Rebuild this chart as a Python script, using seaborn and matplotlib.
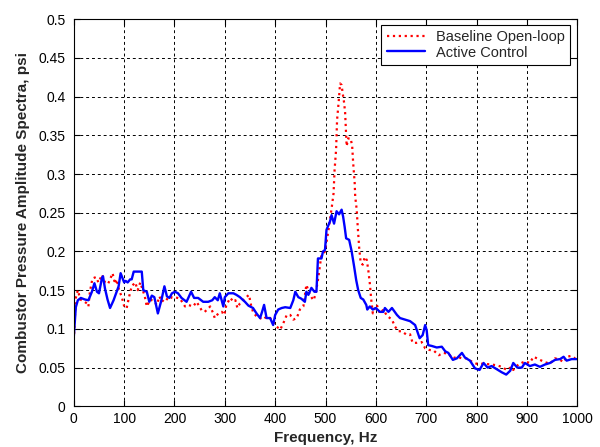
import matplotlib
matplotlib.use("Agg")
import matplotlib.pyplot as plt
import seaborn as sns
import pandas as pd

# Active Control (blue) — frequency (Hz), amplitude (psi)
blue_f = [0, 4, 8, 14, 22, 29, 36, 41, 46, 50, 56, 58, 62, 67, 72, 79, 89, 93, 100, 103,
          107, 112, 115, 119, 128, 135, 138, 145, 150, 155, 160, 167, 174, 180, 185, 190, 195,
          201, 207, 214, 224, 233, 239, 247, 257, 267, 275, 280, 286, 290, 297, 300, 307, 317,
          323, 330, 340, 347, 356, 363, 370, 374, 378, 383, 390, 396, 400, 406, 413, 420, 430,
          436, 440, 446, 452, 459, 462, 466, 472, 478, 482, 485, 492, 495, 499, 502, 509, 512,
          517, 522, 527, 532, 535, 538, 541, 547, 552, 557, 561, 565, 570, 575, 581, 583, 588,
          594, 600, 608, 615, 618, 625, 632, 642, 648, 658, 668, 678, 687, 693, 698, 701, 704,
          711, 721, 731, 738, 744, 753, 761, 771, 777, 787, 797, 806, 814, 822, 830, 840, 850,
          859, 867, 873, 881, 890, 896, 906, 916, 926, 936, 946, 956, 966, 973, 979, 989, 999]
blue_v = [0.090, 0.128, 0.137, 0.140, 0.138, 0.137, 0.148, 0.159, 0.148, 0.146, 0.166, 0.168,
          0.152, 0.138, 0.127, 0.137, 0.155, 0.172, 0.160, 0.162, 0.160, 0.164, 0.164, 0.174,
          0.174, 0.174, 0.150, 0.148, 0.135, 0.143, 0.141, 0.120, 0.137, 0.155, 0.142, 0.140,
          0.146, 0.148, 0.146, 0.140, 0.135, 0.148, 0.140, 0.140, 0.135, 0.135, 0.137, 0.141,
          0.137, 0.146, 0.129, 0.141, 0.146, 0.146, 0.144, 0.141, 0.135, 0.130, 0.127, 0.120,
          0.114, 0.122, 0.131, 0.114, 0.114, 0.105, 0.118, 0.125, 0.127, 0.128, 0.127, 0.137,
          0.148, 0.141, 0.139, 0.135, 0.148, 0.144, 0.153, 0.148, 0.148, 0.191, 0.191, 0.200,
          0.202, 0.228, 0.239, 0.247, 0.236, 0.252, 0.248, 0.254, 0.245, 0.232, 0.217, 0.215,
          0.200, 0.180, 0.163, 0.150, 0.140, 0.138, 0.131, 0.125, 0.129, 0.125, 0.127, 0.122,
          0.122, 0.127, 0.122, 0.127, 0.118, 0.114, 0.112, 0.110, 0.105, 0.088, 0.092, 0.105,
          0.098, 0.079, 0.078, 0.076, 0.077, 0.071, 0.069, 0.060, 0.062, 0.069, 0.063, 0.059,
          0.049, 0.047, 0.056, 0.050, 0.052, 0.048, 0.044, 0.041, 0.046, 0.056, 0.050, 0.050,
          0.056, 0.052, 0.054, 0.051, 0.054, 0.056, 0.060, 0.061, 0.064, 0.059, 0.061, 0.061]

# Baseline Open-loop (red) — frequency (Hz), amplitude (psi)
red_f = [0, 4, 8, 13, 19, 26, 29, 32, 37, 44, 49, 56, 62, 68, 72, 77, 82, 85, 90, 95, 101,
         105, 110, 115, 122, 127, 132, 137, 141, 145, 152, 158, 165, 170, 175, 182, 188, 195,
         201, 211, 221, 227, 237, 244, 254, 260, 271, 277, 280, 287, 294, 299, 303, 311, 317,
         321, 325, 330, 336, 343, 348, 352, 356, 363, 370, 376, 383, 390, 396, 403, 410, 416,
         423, 430, 436, 443, 449, 456, 462, 469, 476, 480, 485, 492, 499, 506, 512, 516, 518,
         521, 523, 526, 529, 532, 534, 537, 539, 541, 542, 545, 550, 553, 555, 558, 559, 562,
         564, 567, 570, 574, 578, 582, 585, 588, 591, 594, 598, 602, 608, 615, 622, 632, 638,
         645, 651, 660, 668, 673, 681, 691, 698, 705, 715, 725, 734, 744, 753, 761, 771, 780,
         790, 800, 814, 830, 840, 850, 860, 870, 873, 883, 896, 906, 913, 920, 926, 936, 946,
         956, 966, 973, 979, 987, 996]
red_v = [0.086, 0.140, 0.150, 0.138, 0.136, 0.133, 0.129, 0.148, 0.165, 0.167, 0.160, 0.170,
         0.160, 0.158, 0.164, 0.172, 0.158, 0.164, 0.150, 0.142, 0.127, 0.127, 0.142, 0.155,
         0.160, 0.150, 0.160, 0.150, 0.142, 0.129, 0.138, 0.136, 0.131, 0.142, 0.135, 0.140,
         0.137, 0.141, 0.141, 0.139, 0.129, 0.131, 0.129, 0.135, 0.124, 0.122, 0.129, 0.120,
         0.114, 0.120, 0.122, 0.118, 0.131, 0.140, 0.135, 0.137, 0.127, 0.133, 0.137, 0.141,
         0.144, 0.131, 0.122, 0.116, 0.114, 0.112, 0.116, 0.114, 0.109, 0.103, 0.099, 0.107,
         0.118, 0.118, 0.112, 0.114, 0.125, 0.129, 0.157, 0.144, 0.137, 0.144, 0.163, 0.196,
         0.200, 0.228, 0.255, 0.275, 0.305, 0.331, 0.370, 0.392, 0.417, 0.415, 0.405, 0.392,
         0.379, 0.349, 0.336, 0.346, 0.346, 0.336, 0.314, 0.288, 0.271, 0.254, 0.232, 0.204,
         0.185, 0.183, 0.193, 0.189, 0.176, 0.159, 0.137, 0.120, 0.127, 0.131, 0.120, 0.125,
         0.117, 0.112, 0.103, 0.097, 0.097, 0.093, 0.093, 0.082, 0.082, 0.083, 0.075, 0.073,
         0.072, 0.066, 0.069, 0.068, 0.062, 0.064, 0.062, 0.062, 0.058, 0.055, 0.055, 0.054,
         0.053, 0.051, 0.047, 0.051, 0.047, 0.054, 0.058, 0.056, 0.064, 0.062, 0.060, 0.057,
         0.055, 0.062, 0.060, 0.057, 0.064, 0.065, 0.062]

x_ticks = [0, 100, 200, 300, 400, 500, 600, 700, 800, 900, 1000]
y_ticks = [0, 0.05, 0.1, 0.15, 0.2, 0.25, 0.3, 0.35, 0.4, 0.45, 0.5]
y_tick_labels = ["0", "0.05", "0.1", "0.15", "0.2", "0.25", "0.3", "0.35", "0.4", "0.45", "0.5"]

sns.set_style("white")
plt.rcParams["font.family"] = ["Liberation Sans", "DejaVu Sans"]

fig = plt.figure(figsize=(6.0, 4.47), dpi=100)
ax = fig.add_axes([0.123, 0.091, 0.839, 0.866])

red_df = pd.DataFrame({"f": red_f, "v": red_v})
blue_df = pd.DataFrame({"f": blue_f, "v": blue_v})
sns.lineplot(data=red_df, x="f", y="v", ax=ax, color="#ff0000", linestyle=":",
             linewidth=1.6, label="Baseline Open-loop", sort=False)
sns.lineplot(data=blue_df, x="f", y="v", ax=ax, color="#0000ff", linestyle="-",
             linewidth=1.7, label="Active Control", sort=False)

ax.set_xlim(0, 1000)
ax.set_ylim(0, 0.5)
ax.set_xticks(x_ticks)
ax.set_xticklabels([str(t) for t in x_ticks])
ax.set_yticks(y_ticks)
ax.set_yticklabels(y_tick_labels)
ax.tick_params(direction="in", length=4, width=0.8, labelsize=10, colors="black",
               top=True, right=True, bottom=True, left=True, pad=6)
ax.tick_params(axis="x", pad=4)
ax.grid(True, color="black", linestyle=(0, (3, 3)), linewidth=0.7)
for s in ax.spines.values():
    s.set_visible(True)
    s.set_color("black")
    s.set_linewidth(0.8)

ax.set_xlabel("Frequency, Hz", fontsize=11, fontweight="bold", labelpad=4)
ax.set_ylabel("Combustor Pressure Amplitude Spectra, psi", fontsize=11,
              fontweight="bold", labelpad=6)

leg = ax.legend(loc="upper right", fontsize=10.5, frameon=True, fancybox=False,
                framealpha=1, edgecolor="black", borderpad=0.35, labelspacing=0.1,
                handlelength=2.6, handletextpad=0.8, borderaxespad=0.0,
                bbox_to_anchor=(0.986, 0.985))
leg.get_frame().set_linewidth(0.8)

fig.savefig("out.png", dpi=100)
